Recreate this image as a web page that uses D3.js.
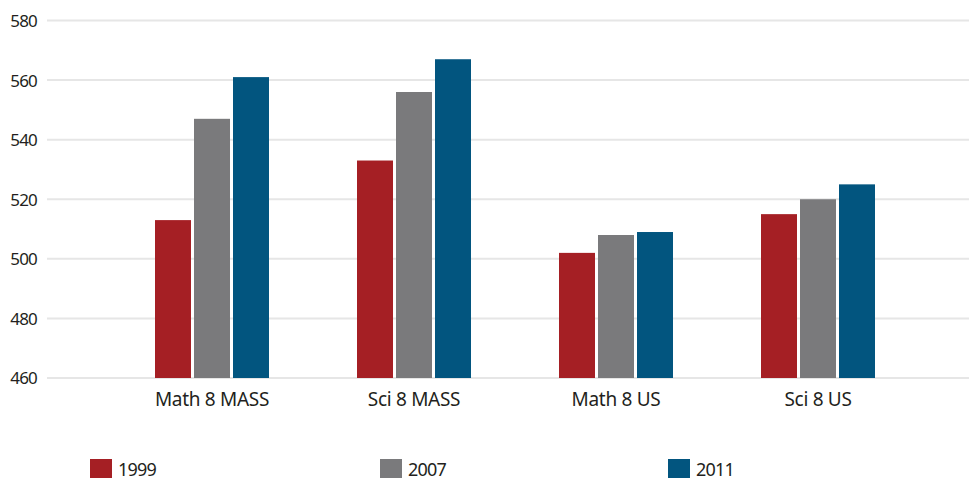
<!DOCTYPE html>
<html>
<head>
<meta charset="utf-8">
<script src="https://cdn.jsdelivr.net/npm/d3@7"></script>
<style>
  body { margin: 0; background: #fff; }
  text { font-family: "Noto Sans", "Open Sans", sans-serif; fill: #231f20; }
</style>
</head>
<body>
<div id="chart"></div>
<script>
// data
const categories = ["Math 8 MASS", "Sci 8 MASS", "Math 8 US", "Sci 8 US"];
const years = ["1999", "2007", "2011"];
const scores1999 = [513, 533, 502, 515];
const scores2007 = [547, 556, 508, 520];
const scores2011 = [561, 567, 509, 525];
const yTicks = [460, 480, 500, 520, 540, 560, 580];
const colors = ["#a51f24", "#7a7a7c", "#02557f"];

const series = [scores1999, scores2007, scores2011];

const width = 969, height = 483;

const svg = d3.select("#chart").append("svg")
    .attr("width", width)
    .attr("height", height);

// scales
const y = d3.scaleLinear()
    .domain([460, 580])
    .range([378, 20.5]);

const x0 = d3.scaleBand()
    .domain(categories)
    .range([111, 919]);

const x1 = d3.scaleBand()
    .domain(years)
    .range([0, 114])
    .paddingInner(3 / 39);

// gridlines
svg.append("g")
    .selectAll("line")
    .data(yTicks)
    .enter()
    .append("line")
    .attr("x1", 47)
    .attr("x2", width)
    .attr("y1", d => y(d))
    .attr("y2", d => y(d))
    .attr("stroke", "#e6e6e6")
    .attr("stroke-width", 2);

// y axis labels
const yAxis = d3.axisLeft(y).tickValues(yTicks).tickSize(0).tickPadding(0);
svg.append("g")
    .attr("transform", "translate(37,0)")
    .call(yAxis)
    .call(g => g.select(".domain").remove())
    .call(g => g.selectAll("text")
        .attr("font-size", 17)
        .attr("dy", "0.35em")
        .style("letter-spacing", "-0.8px")
        .style("font-family", "'Noto Sans', sans-serif")
        .attr("fill", "#231f20"));

// bars
const groups = svg.append("g")
    .selectAll("g")
    .data(categories)
    .enter()
    .append("g")
    .attr("transform", d => "translate(" + (x0(d) + (x0.bandwidth() - 114) / 2) + ",0)");

groups.selectAll("rect")
    .data((c, i) => years.map((yr, j) => ({year: yr, value: series[j][i], idx: j})))
    .enter()
    .append("rect")
    .attr("x", d => x1(d.year))
    .attr("width", x1.bandwidth())
    .attr("y", d => y(d.value))
    .attr("height", d => y(460) - y(d.value))
    .attr("fill", d => colors[d.idx]);

// x axis labels
const xAxis = d3.axisBottom(x0).tickSize(0).tickPadding(0);
svg.append("g")
    .attr("transform", "translate(0,392)")
    .call(xAxis)
    .call(g => g.select(".domain").remove())
    .call(g => g.selectAll("text")
        .attr("font-size", 19)
        .attr("dy", "0.71em")
        .style("letter-spacing", "-0.3px")
        .style("font-family", "'Noto Sans', sans-serif")
        .attr("fill", "#231f20"));

// legend
const legendX = [90, 380, 668];
const legend = svg.append("g")
    .selectAll("g")
    .data(years)
    .enter()
    .append("g")
    .attr("transform", (d, i) => "translate(" + legendX[i] + ",459)");

legend.append("rect")
    .attr("width", 22)
    .attr("height", 19)
    .attr("fill", (d, i) => colors[i]);

legend.append("text")
    .attr("x", 28)
    .attr("y", 17)
    .attr("font-size", 18)
    .style("letter-spacing", "-0.8px")
    .text(d => d);
</script>
</body>
</html>
